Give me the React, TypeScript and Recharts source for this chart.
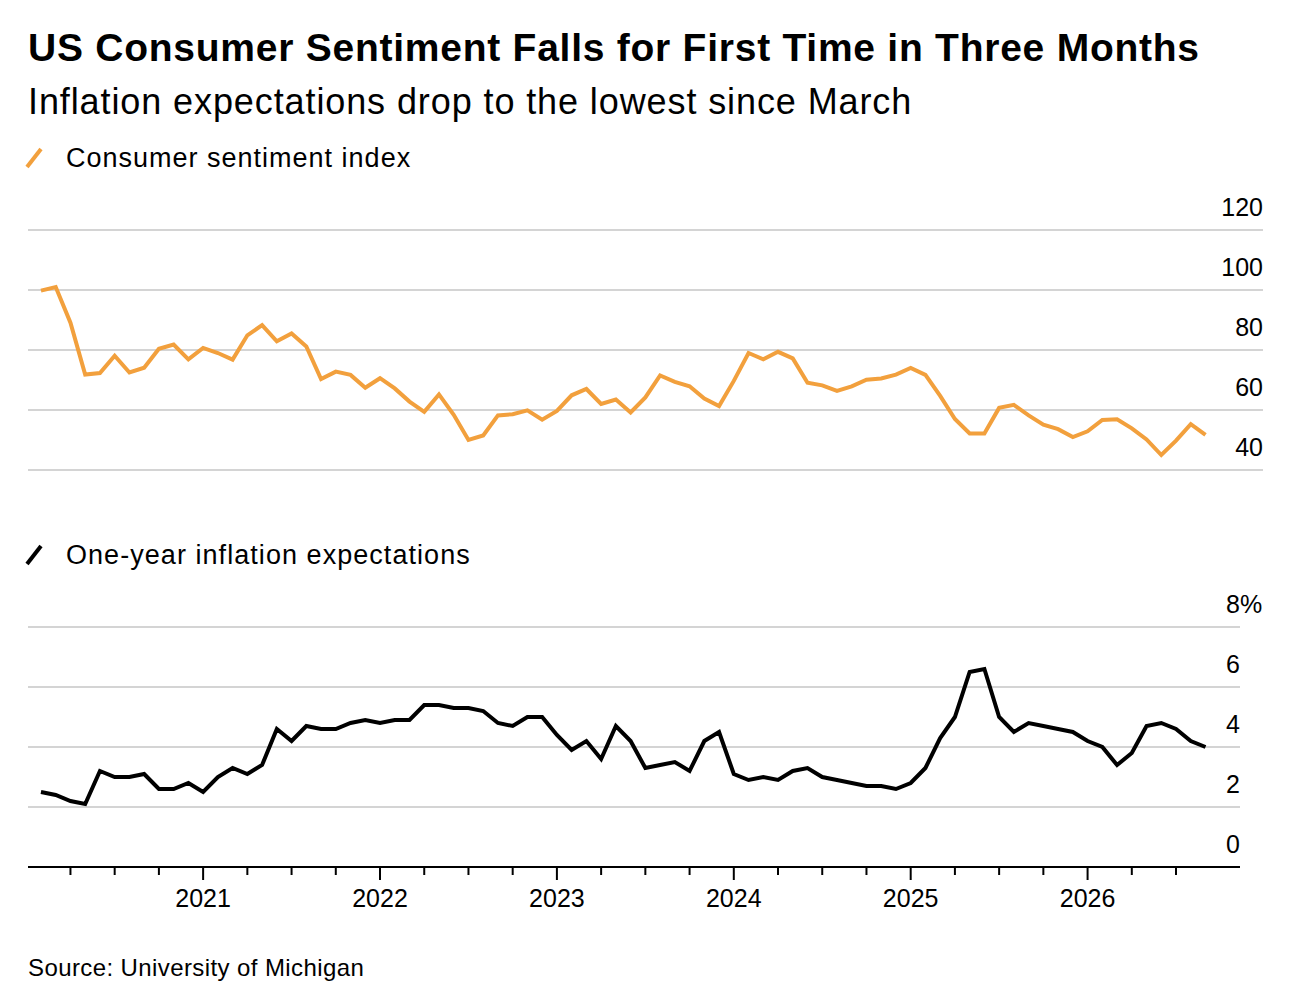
import React from "react";
import {
  LineChart,
  Line,
  XAxis,
  YAxis,
  CartesianGrid,
} from "recharts";

// monthly readings, Jan 2020 → Aug 2026
const SENTIMENT = [
  99.8, 101.0, 89.1, 71.8, 72.3, 78.1, 72.5, 74.1, 80.4, 81.8, 76.9, 80.7,
  79.0, 76.8, 84.9, 88.3, 82.9, 85.5, 81.2, 70.3, 72.8, 71.7, 67.4, 70.6,
  67.2, 62.8, 59.4, 65.2, 58.4, 50.0, 51.5, 58.2, 58.6, 59.9, 56.8, 59.7,
  64.9, 67.0, 62.0, 63.5, 59.2, 64.2, 71.5, 69.4, 67.9, 63.8, 61.3, 69.7,
  79.0, 76.9, 79.4, 77.2, 69.1, 68.2, 66.4, 67.9, 70.1, 70.5, 71.8, 74.0,
  71.7, 64.7, 57.0, 52.2, 52.2, 60.7, 61.7, 58.2, 55.1, 53.6, 51.0, 52.9,
  56.7, 56.9, 53.9, 50.2, 45.0, 49.8, 55.3, 51.7,
];

const INFLATION = [
  2.5, 2.4, 2.2, 2.1, 3.2, 3.0, 3.0, 3.1, 2.6, 2.6, 2.8, 2.5,
  3.0, 3.3, 3.1, 3.4, 4.6, 4.2, 4.7, 4.6, 4.6, 4.8, 4.9, 4.8,
  4.9, 4.9, 5.4, 5.4, 5.3, 5.3, 5.2, 4.8, 4.7, 5.0, 5.0, 4.4,
  3.9, 4.2, 3.6, 4.7, 4.2, 3.3, 3.4, 3.5, 3.2, 4.2, 4.5, 3.1,
  2.9, 3.0, 2.9, 3.2, 3.3, 3.0, 2.9, 2.8, 2.7, 2.7, 2.6, 2.8,
  3.3, 4.3, 5.0, 6.5, 6.6, 5.0, 4.5, 4.8, 4.7, 4.6, 4.5, 4.2,
  4.0, 3.4, 3.8, 4.7, 4.8, 4.6, 4.2, 4.0,
];

const YEAR_LABELS = ["2021", "2022", "2023", "2024", "2025", "2026"];
const SENTIMENT_TICKS = [40, 60, 80, 100, 120];
const INFLATION_TICKS = [0, 2, 4, 6, 8];

const ORANGE = "#F2A03D";
const GRID = "#c6c6c6";
const FONT = '"Liberation Sans", Arial, Helvetica, sans-serif';

const data = SENTIMENT.map((s, i) => ({ i, sentiment: s, inflation: INFLATION[i] }));

// quarter ticks: index 2 = end of Mar 2020, year starts at index 11, 23, ...
const quarterTicks: number[] = [];
for (let t = 2; t < SENTIMENT.length; t += 3) quarterTicks.push(t);
const yearAt = (i: number) => ((i - 11) % 12 === 0 ? YEAR_LABELS[(i - 11) / 12] : null);

const RightLabel = (props: any) => {
  const { x, y, payload, pct, top } = props;
  return (
    <g>
      <text x={x} y={y - 14} textAnchor="end" fontSize={25} fill="#000" fontFamily={FONT}>
        {payload.value}
      </text>
      {pct && payload.value === top && (
        <text x={x} y={y - 14} textAnchor="start" fontSize={25} fill="#000" fontFamily={FONT}>
          %
        </text>
      )}
    </g>
  );
};

const DateTick = (props: any) => {
  const { x, y, payload } = props;
  const label = yearAt(payload.value);
  return (
    <g>
      <line x1={x} x2={x} y1={y} y2={y + (label ? 13 : 8)} stroke="#000" strokeWidth={2} />
      {label && (
        <text x={x} y={y + 40} textAnchor="middle" fontSize={25} fill="#000" fontFamily={FONT}>
          {label}
        </text>
      )}
    </g>
  );
};

const Swatch = ({ color }: { color: string }) => (
  <svg width={20} height={22} style={{ position: "absolute", left: 24, top: 0 }}>
    <line x1={3} y1={20} x2={17} y2={2} stroke={color} strokeWidth={4} />
  </svg>
);

export default function App() {
  return (
    <div
      style={{
        position: "absolute",
        left: 0,
        top: 0,
        width: 1314,
        height: 994,
        background: "#fff",
        fontFamily: FONT,
        color: "#000",
      }}
    >
      <div style={{ position: "absolute", left: 28, top: 26, fontSize: 39, letterSpacing: 0.75, fontWeight: 700, whiteSpace: "nowrap" }}>
        US Consumer Sentiment Falls for First Time in Three Months
      </div>
      <div style={{ position: "absolute", left: 28, top: 81, fontSize: 36, letterSpacing: 0.9, whiteSpace: "nowrap" }}>
        Inflation expectations drop to the lowest since March
      </div>

      <div style={{ position: "absolute", left: 0, top: 147, width: 600, height: 30 }}>
        <Swatch color={ORANGE} />
        <div style={{ position: "absolute", left: 66, top: -4, fontSize: 27, letterSpacing: 1.0, whiteSpace: "nowrap" }}>
          Consumer sentiment index
        </div>
      </div>

      <div style={{ position: "absolute", left: 0, top: 180 }}>
        <LineChart width={1314} height={310} data={data} margin={{ top: 50, right: 51, bottom: 20, left: 28 }}>
          <CartesianGrid horizontal vertical={false} stroke={GRID} strokeWidth={1.6} />
          <XAxis type="number" dataKey="i" domain={[-0.88, 82.9]} hide />
          <YAxis
            orientation="right"
            mirror
            domain={[40, 120]}
            ticks={SENTIMENT_TICKS}
            axisLine={false}
            tickLine={false}
            tickSize={0}
            tickMargin={0}
            tick={<RightLabel />}
          />
          <Line
            type="linear"
            dataKey="sentiment"
            stroke={ORANGE}
            strokeWidth={4}
            dot={false}
            isAnimationActive={false}
          />
        </LineChart>
      </div>

      <div style={{ position: "absolute", left: 0, top: 544, width: 600, height: 30 }}>
        <Swatch color="#000" />
        <div style={{ position: "absolute", left: 66, top: -4, fontSize: 27, letterSpacing: 1.05, whiteSpace: "nowrap" }}>
          One-year inflation expectations
        </div>
      </div>

      <div style={{ position: "absolute", left: 0, top: 580 }}>
        <LineChart width={1314} height={337} data={data} margin={{ top: 47, right: 74, bottom: 0, left: 28 }}>
          <CartesianGrid horizontal vertical={false} stroke={GRID} strokeWidth={1.6} />
          <XAxis
            type="number"
            dataKey="i"
            domain={[-0.88, 81.34]}
            ticks={quarterTicks}
            interval={0}
            height={50}
            axisLine={{ stroke: "#000", strokeWidth: 2 }}
            tickLine={false}
            tickSize={0}
            tickMargin={0}
            tick={<DateTick />}
          />
          <YAxis
            orientation="right"
            mirror
            domain={[0, 8]}
            ticks={INFLATION_TICKS}
            axisLine={false}
            tickLine={false}
            tickSize={0}
            tickMargin={0}
            tick={<RightLabel pct top={8} />}
          />
          <Line
            type="linear"
            dataKey="inflation"
            stroke="#000"
            strokeWidth={4}
            dot={false}
            isAnimationActive={false}
          />
        </LineChart>
      </div>

      <div style={{ position: "absolute", left: 28, top: 954, fontSize: 24, letterSpacing: 0.4, whiteSpace: "nowrap" }}>
        Source: University of Michigan
      </div>
    </div>
  );
}
